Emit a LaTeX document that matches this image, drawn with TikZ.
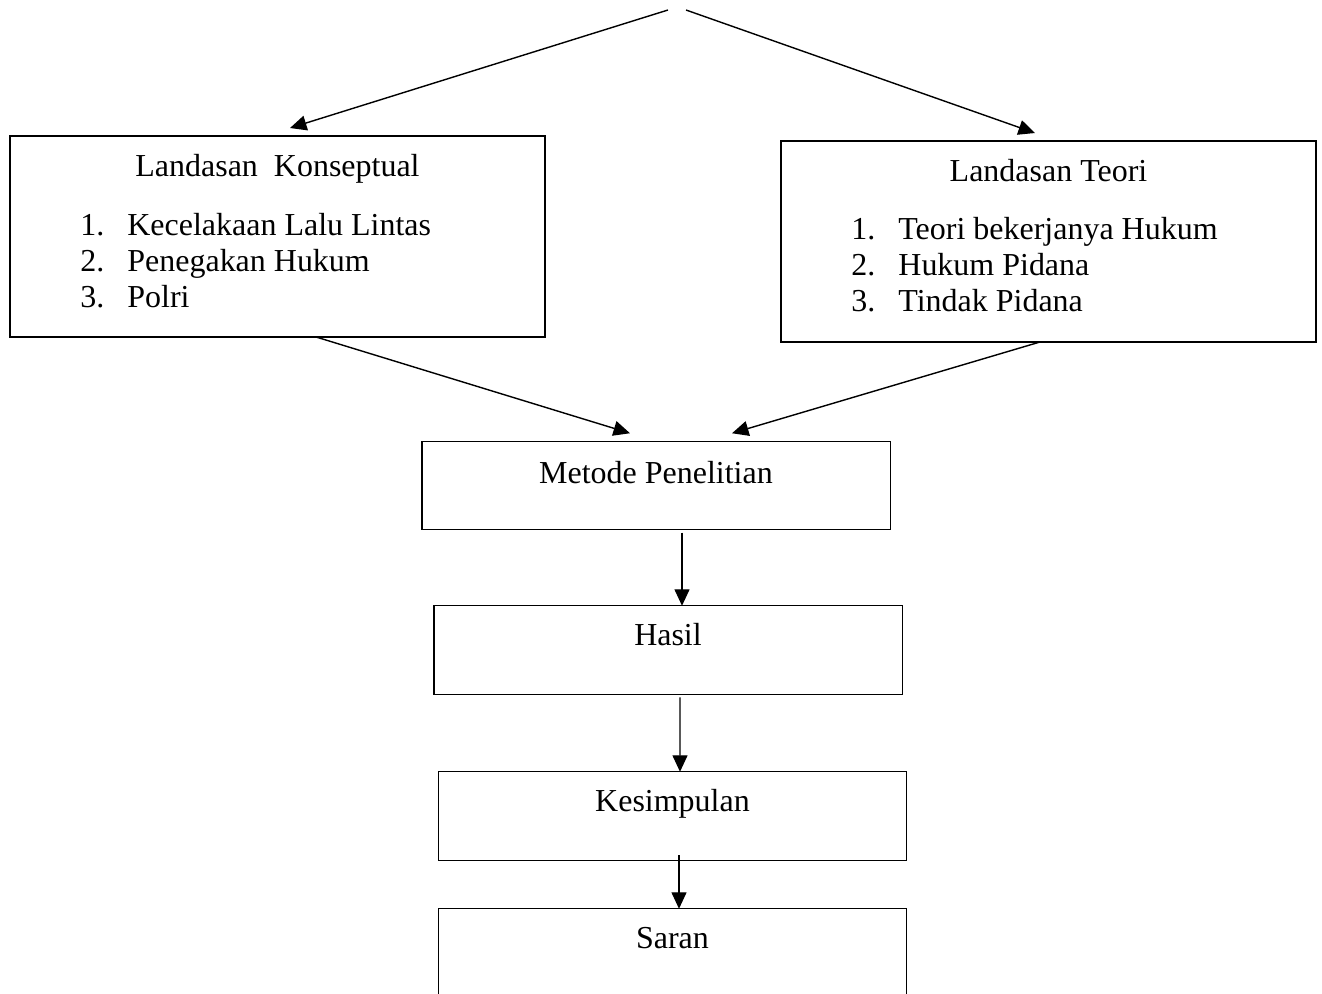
\documentclass[tikz,border=0pt]{standalone}
\usepackage{fontspec}
\setmainfont{Liberation Serif}
\usetikzlibrary{arrows.meta}

\begin{document}
\begin{tikzpicture}[x=0.02cm,y=-0.02cm,
        every node/.style={font=\fontsize{18.2}{20.5}\selectfont},
        box/.style={draw,line width=0.8pt,inner sep=0pt,outer sep=0pt},
        wide/.style={box,minimum width=10.7cm,minimum height=4.02cm},
        narrow/.style={box,minimum width=9.37cm,minimum height=1.77cm},
        arr/.style={line width=0.8pt,-{Triangle[length=0.33cm,width=0.3cm]}}]
    \useasboundingbox (0,0) rectangle (1322,994);
    \clip (0,0) rectangle (1322,994);
    % boxes
    \node [wide] (konsep) at (277.5,236.5) {};
    \node [wide] (teori) at (1048.5,241.5) {};
    \node [narrow] (metode) at (656,485.5) {};
    \node [narrow] (hasil) at (668,650) {};
    \node [narrow] (kesimpulan) at (672.5,816) {};
    \node [narrow] (saran) at (672.5,953) {};
    % titles
    \node [anchor=base] (konsepT) at ([shift={(0,40)}]konsep.north) {Landasan\ \ Konseptual};
    \node [anchor=base] (teoriT) at ([shift={(0,40)}]teori.north) {Landasan Teori};
    \node [anchor=base] (metodeT) at ([shift={(0,42)}]metode.north) {Metode Penelitian};
    \node [anchor=base] (hasilT) at ([shift={(0,40)}]hasil.north) {Hasil};
    \node [anchor=base] (kesimpulanT) at ([shift={(0,40)}]kesimpulan.north) {Kesimpulan};
    \node [anchor=base] (saranT) at ([shift={(0,40)}]saran.north) {Saran};
    % lists
    \foreach \n/\t in {1/Kecelakaan Lalu Lintas,2/Penegakan Hukum,3/Polri} {
        \node [anchor=base west,inner sep=0pt] (konsepN\n) at ([shift={(70,63+36*\n)}]konsep.north west) {\n.};
        \node [anchor=base west,inner sep=0pt] (konsepI\n) at ([shift={(117,63+36*\n)}]konsep.north west) {\t};
    }
    \foreach \n/\t in {1/Teori bekerjanya Hukum,2/Hukum Pidana,3/Tindak Pidana} {
        \node [anchor=base west,inner sep=0pt] (teoriN\n) at ([shift={(70,62+36*\n)}]teori.north west) {\n.};
        \node [anchor=base west,inner sep=0pt] (teoriI\n) at ([shift={(117,62+36*\n)}]teori.north west) {\t};
    }
    % arrows
    \coordinate (apexL) at (668,10);
    \coordinate (apexR) at (686,10);
    \draw [arr] (apexL) -- ([shift={(12.5,-8)}]konsep.north);
    \draw [arr] (apexR) -- ([shift={(-13.5,-8)}]teori.north);
    \draw [arr] ([shift={(38.5,0)}]konsep.south) -- ([shift={(-26,-8)}]metode.north);
    \draw [arr] ([shift={(-8.5,0)}]teori.south) -- ([shift={(76,-8)}]metode.north);
    \draw [arr] ([shift={(26,3)}]metode.south) -- ([shift={(14,0)}]hasil.north);
    \draw [arr] ([shift={(12,3)}]hasil.south) -- ([shift={(7.5,0)}]kesimpulan.north);
    \draw [arr] ([shift={(6.5,-5)}]kesimpulan.south) -- ([shift={(6.5,0)}]saran.north);
\end{tikzpicture}
\end{document}
